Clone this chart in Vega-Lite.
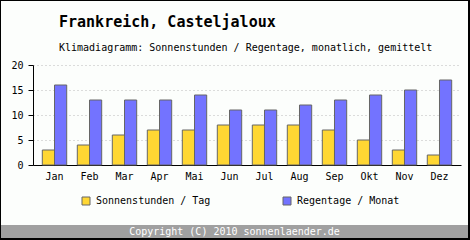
{
  "$schema": "https://vega.github.io/schema/vega-lite/v6.json",
  "background": "black",
  "padding": {"left": 1, "top": 1, "right": 2, "bottom": 2},
  "spacing": 0,
  "bounds": "flush",
  "config": {
    "font": "DejaVu Sans Mono",
    "view": {"stroke": null},
    "axis": {"zindex": 0}
  },
  "vconcat": [
    {
      "width": 467,
      "height": 224,
      "view": {"fill": "#fcfefc", "stroke": null},
      "title": {
        "text": "Frankreich, Casteljaloux",
        "subtitle": "Klimadiagramm: Sonnenstunden / Regentage, monatlich, gemittelt",
        "anchor": "start",
        "frame": "group",
        "dx": 58,
        "offset": -52,
        "font": "DejaVu Sans Mono",
        "fontSize": 15,
        "fontWeight": "bold",
        "color": "black",
        "subtitleFont": "DejaVu Sans Mono",
        "subtitleFontSize": 10,
        "subtitleColor": "black",
        "subtitlePadding": 13
      },
      "data": {
        "values": [
          {"month": "Jan", "series": "Sonnenstunden / Tag", "value": 3},
          {"month": "Feb", "series": "Sonnenstunden / Tag", "value": 4},
          {"month": "Mar", "series": "Sonnenstunden / Tag", "value": 6},
          {"month": "Apr", "series": "Sonnenstunden / Tag", "value": 7},
          {"month": "Mai", "series": "Sonnenstunden / Tag", "value": 7},
          {"month": "Jun", "series": "Sonnenstunden / Tag", "value": 8},
          {"month": "Jul", "series": "Sonnenstunden / Tag", "value": 8},
          {"month": "Aug", "series": "Sonnenstunden / Tag", "value": 8},
          {"month": "Sep", "series": "Sonnenstunden / Tag", "value": 7},
          {"month": "Okt", "series": "Sonnenstunden / Tag", "value": 5},
          {"month": "Nov", "series": "Sonnenstunden / Tag", "value": 3},
          {"month": "Dez", "series": "Sonnenstunden / Tag", "value": 2},
          {"month": "Jan", "series": "Regentage / Monat", "value": 16},
          {"month": "Feb", "series": "Regentage / Monat", "value": 13},
          {"month": "Mar", "series": "Regentage / Monat", "value": 13},
          {"month": "Apr", "series": "Regentage / Monat", "value": 13},
          {"month": "Mai", "series": "Regentage / Monat", "value": 14},
          {"month": "Jun", "series": "Regentage / Monat", "value": 11},
          {"month": "Jul", "series": "Regentage / Monat", "value": 11},
          {"month": "Aug", "series": "Regentage / Monat", "value": 12},
          {"month": "Sep", "series": "Regentage / Monat", "value": 13},
          {"month": "Okt", "series": "Regentage / Monat", "value": 14},
          {"month": "Nov", "series": "Regentage / Monat", "value": 15},
          {"month": "Dez", "series": "Regentage / Monat", "value": 17}
        ]
      },
      "mark": {"type": "bar", "stroke": "#666666", "strokeWidth": 1},
      "encoding": {
        "x": {
          "field": "month",
          "type": "nominal",
          "sort": null,
          "scale": {
            "domain": ["Jan", "Feb", "Mar", "Apr", "Mai", "Jun", "Jul", "Aug", "Sep", "Okt", "Nov", "Dez"],
            "range": [32, 460],
            "paddingInner": 0.303,
            "paddingOuter": 0.266
          },
          "axis": {
            "title": null,
            "orient": "bottom",
            "offset": -60,
            "ticks": false,
            "labelAngle": 0,
            "labelPadding": 6,
            "labelFontSize": 10,
            "labelColor": "black",
            "domainColor": "black",
            "grid": false
          }
        },
        "xOffset": {
          "field": "series",
          "type": "nominal",
          "scale": {"domain": ["Sonnenstunden / Tag", "Regentage / Monat"], "paddingInner": 0, "paddingOuter": 0}
        },
        "y": {
          "field": "value",
          "type": "quantitative",
          "scale": {"domain": [0, 20], "range": [164, 64], "nice": false},
          "axis": {
            "title": null,
            "offset": -32,
            "values": [0, 5, 10, 15, 20],
            "tickSize": 5,
            "tickColor": "black",
            "domainColor": "black",
            "labelPadding": 5,
            "labelFontSize": 10,
            "labelColor": "black",
            "gridColor": "#bbbbbb",
            "gridDash": [1, 3]
          }
        },
        "color": {
          "field": "series",
          "type": "nominal",
          "scale": {
            "domain": ["Sonnenstunden / Tag", "Regentage / Monat"],
            "range": ["#ffd733", "#7373ff"]
          },
          "legend": {
            "orient": "none",
            "legendX": 80,
            "legendY": 195,
            "direction": "horizontal",
            "title": null,
            "symbolType": "square",
            "symbolSize": 64,
            "symbolStrokeColor": "#666666",
            "symbolStrokeWidth": 1,
            "labelFontSize": 10,
            "labelColor": "black",
            "labelOffset": 5,
            "columnPadding": 70
          }
        }
      }
    },
    {
      "width": 467,
      "height": 13,
      "view": {"fill": "#a0a0a0", "stroke": null},
      "data": {"values": [{"t": "Copyright (C) 2010 sonnenlaender.de"}]},
      "mark": {"type": "text", "color": "white", "fontSize": 10, "font": "DejaVu Sans Mono", "baseline": "middle"},
      "encoding": {"text": {"field": "t", "type": "nominal"}}
    }
  ]
}
